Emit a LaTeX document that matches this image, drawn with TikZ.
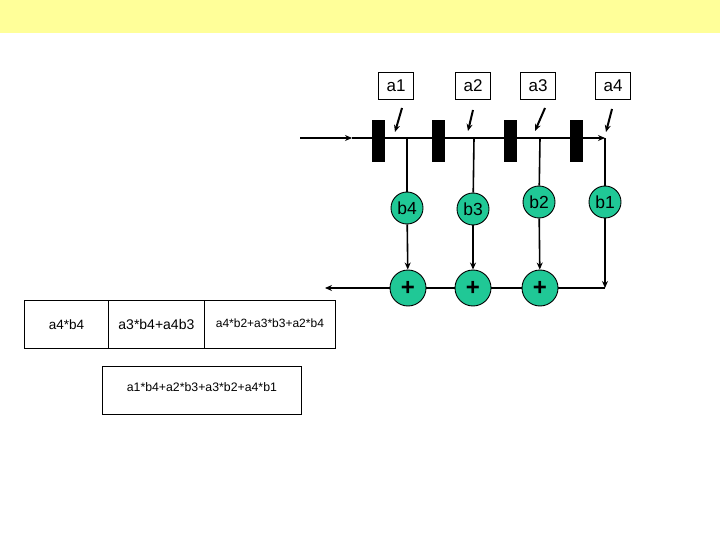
\documentclass[tikz,border=0pt]{standalone}
\usepackage{fontspec}
\setmainfont{Liberation Sans}
\usetikzlibrary{arrows.meta}
\definecolor{band}{RGB}{255,255,153}
\definecolor{teal}{RGB}{32,200,150}
\begin{document}
\begin{tikzpicture}[x=1pt,y=-1pt,
  abox/.style={draw,line width=0.8pt,minimum width=35pt,minimum height=27pt,inner sep=0pt,font=\fontsize{17}{17}\selectfont},
  bar/.style={fill=black,draw=none,minimum width=13pt,minimum height=42pt,inner sep=0pt},
  bcirc/.style={circle,draw,line width=0.9pt,fill=teal,minimum size=32pt,inner sep=0pt,font=\fontsize{17.5}{17.5}\selectfont},
  pcirc/.style={circle,draw,line width=0.9pt,fill=teal,minimum size=36pt,inner sep=0pt,font=\fontsize{24}{24}\selectfont\bfseries},
  res/.style={draw,line width=0.8pt,inner sep=0pt,anchor=north west},
  wire/.style={line width=1.6pt},
  arr/.style={line width=1.6pt,-{Stealth[length=7pt,width=6pt]}},
]
\useasboundingbox (0,0) rectangle (720,540);
\fill[band] (0,0) rectangle (720,33);
% a boxes
\node[abox] (a1) at (396,86) {\raisebox{-2pt}{a1}};
\node[abox] (a2) at (473,86) {\raisebox{-2pt}{a2}};
\node[abox] (a3) at (538,86) {\raisebox{-2pt}{a3}};
\node[abox] (a4) at (613,86) {\raisebox{-2pt}{a4}};
% main line
\coordinate (s) at (300,138);
\coordinate (m) at (352,138);
\coordinate (t1) at (407,138);
\coordinate (t2) at (474,138);
\coordinate (t3) at (540,138);
\coordinate (t4) at (605,138);
\draw[arr,line width=2pt] (s) -- (m);
\draw[arr,line width=2pt] (m) -- (t4);
% bars
\node[bar] (k1) at (378.5,141) {};
\node[bar] (k2) at (438.5,141) {};
\node[bar] (k3) at (510.5,141) {};
\node[bar] (k4) at (576.5,141) {};
% small arrows
\coordinate (u1) at (402,108); \coordinate (v1) at (395,132);
\coordinate (u2) at (473,110); \coordinate (v2) at (468,131);
\coordinate (u3) at (545,108); \coordinate (v3) at (535,131);
\coordinate (u4) at (612,109); \coordinate (v4) at (606,132);
\draw[arr,line width=2pt] (u1) -- (v1);
\draw[arr,line width=2pt] (u2) -- (v2);
\draw[arr,line width=2pt] (u3) -- (v3);
\draw[arr,line width=2pt] (u4) -- (v4);
% b circles
\node[bcirc] (b4) at (407,208) {b4};
\node[bcirc] (b3) at (473,209) {b3};
\node[bcirc] (b2) at (539,202) {b2};
\node[bcirc] (b1) at (605,202) {b1};
% plus circles
\node[pcirc] (p1) at (408,288) {+};
\node[pcirc] (p2) at (473,288) {+};
\node[pcirc] (p3) at (540,288) {+};
\coordinate (c4) at (605,288);
\coordinate (out) at (325,288);
\draw[wire] (t1) -- (b4);
\draw[wire] (t2) -- (b3);
\draw[wire] (t3) -- (b2);
\draw[wire] (t4) -- (b1);
\draw[arr] (b4) -- (p1);
\draw[arr] (b3) -- (p2);
\draw[arr] (b2) -- (p3);
\draw[arr] (b1) -- (c4);
\draw[wire,line width=1.1pt] (c4) -- (p3);
\draw[wire,line width=1.1pt] (p3) -- (p2);
\draw[wire,line width=1.1pt] (p2) -- (p1);
\draw[arr] (p1) -- (out);
% result boxes
\node[res,minimum width=84pt,minimum height=48pt,font=\fontsize{13.5}{13.5}\selectfont] (r1) at (24,300) {a4*b4};
\node[res,minimum width=96pt,minimum height=48pt,font=\fontsize{14}{14}\selectfont] (r2) at (108,300) {a3*b4+a4b3};
\node[res,minimum width=131pt,minimum height=48pt,font=\fontsize{12}{12}\selectfont] (r3) at (204,300) {\raisebox{3pt}{a4*b2+a3*b3+a2*b4}};
\node[res,minimum width=199pt,minimum height=48pt,font=\fontsize{12.3}{12.3}\selectfont] (r4) at (102,366) {\raisebox{6pt}{a1*b4+a2*b3+a3*b2+a4*b1}};
\end{tikzpicture}
\end{document}
